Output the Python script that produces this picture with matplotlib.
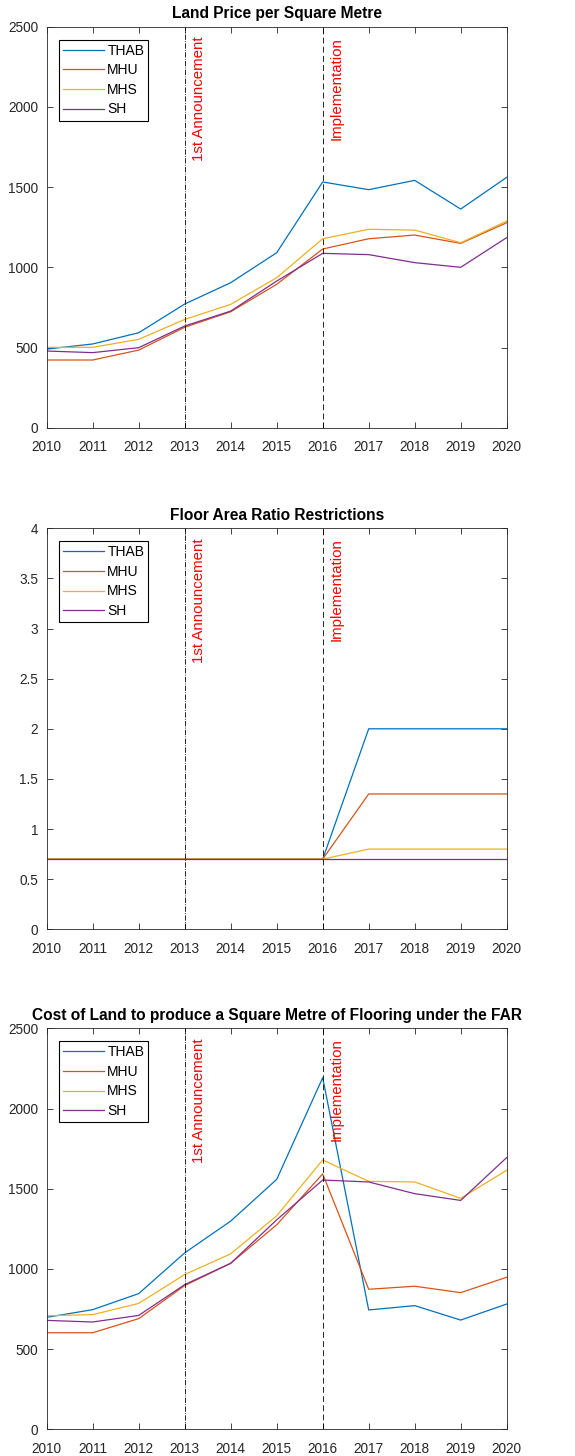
import matplotlib.pyplot as plt
from matplotlib.ticker import FuncFormatter

plt.rcParams['font.family'] = ['Liberation Sans', 'DejaVu Sans']

years = list(range(2010, 2021))
series = ['THAB', 'MHU', 'MHS', 'SH']
colors = ['#0072BD', '#D95319', '#EDB120', '#7E2F8E']

# land price per square metre
price_thab = [490, 522, 592, 771, 904, 1091, 1532, 1484, 1542, 1363, 1561]
price_mhu = [422, 422, 484, 626, 723, 894, 1114, 1178, 1201, 1149, 1278]
price_mhs = [501, 501, 551, 675, 769, 935, 1178, 1237, 1232, 1153, 1288]
price_sh = [478, 468, 499, 634, 727, 914, 1087, 1079, 1029, 1000, 1185]

# floor area ratio
far_thab = [0.7, 0.7, 0.7, 0.7, 0.7, 0.7, 0.7, 2.0, 2.0, 2.0, 2.0]
far_mhu = [0.7, 0.7, 0.7, 0.7, 0.7, 0.7, 0.7, 1.35, 1.35, 1.35, 1.35]
far_mhs = [0.7, 0.7, 0.7, 0.7, 0.7, 0.7, 0.7, 0.8, 0.8, 0.8, 0.8]
far_sh = [0.7, 0.7, 0.7, 0.7, 0.7, 0.7, 0.7, 0.7, 0.7, 0.7, 0.7]

# cost of land per square metre of flooring
cost_thab = [698, 746, 846, 1100, 1298, 1558, 2192, 744, 771, 681, 781]
cost_mhu = [602, 602, 690, 896, 1035, 1275, 1592, 873, 892, 852, 948]
cost_mhs = [708, 715, 785, 965, 1094, 1331, 1679, 1546, 1542, 1440, 1615]
cost_sh = [679, 669, 710, 902, 1035, 1306, 1554, 1542, 1469, 1427, 1694]

panels = [
    ('Land Price per Square Metre', [price_thab, price_mhu, price_mhs, price_sh], 2500, 500),
    ('Floor Area Ratio Restrictions', [far_thab, far_mhu, far_mhs, far_sh], 4, 0.5),
    ('Cost of Land to produce a Square Metre of Flooring under the FAR',
     [cost_thab, cost_mhu, cost_mhs, cost_sh], 2500, 500),
]

W, H = 575, 1456
fig = plt.figure(figsize=(W / 100, H / 100), dpi=100)
tops = [26.7, 528.3, 1028.3]
left, right, height = 46.7, 506.7, 401

axc = '#262626'
for (title, data, ymax, ystep), top in zip(panels, tops):
    ax = fig.add_axes([left / W, 1 - (top + height) / H, (right - left) / W, height / H])
    for vals, name, c in zip(data, series, colors):
        ax.plot(years, vals, color=c, linewidth=0.9, label=name)
    ax.axvline(2013, color='black', linestyle='-.', linewidth=0.6)
    ax.axvline(2016, color='black', linestyle=(0, (7, 4)), linewidth=0.6)
    ax.text(2013.15, ymax * 0.975, '1st Announcement', rotation=90, color='red',
            fontsize=10.8, ha='left', va='top')
    ax.text(2016.15, ymax * 0.975, 'Implementation', rotation=90, color='red',
            fontsize=10.8, ha='left', va='top')
    ax.set_xlim(2010, 2020)
    ax.set_ylim(0, ymax)
    ax.set_xticks(years)
    n = int(round(ymax / ystep))
    ax.set_yticks([i * ystep for i in range(n + 1)])
    ax.yaxis.set_major_formatter(FuncFormatter(lambda v, p: '%g' % v))
    ax.tick_params(direction='in', top=True, right=True, labelsize=9.8,
                   colors=axc, length=4, width=0.6)
    ax.tick_params(axis='x', pad=9)
    ax.tick_params(axis='y', pad=6)
    for s in ax.spines.values():
        s.set_color(axc)
        s.set_linewidth(0.6)
    ax.set_title(title, fontsize=11.2, fontweight='bold', pad=6)
    leg = ax.legend(loc='upper left', bbox_to_anchor=(0.026, 0.968), fontsize=10,
                    fancybox=False, edgecolor='black', framealpha=1,
                    handlelength=3.0, handletextpad=0.2, labelspacing=0.4,
                    borderpad=0.3, borderaxespad=0)
    leg.get_frame().set_linewidth(0.8)

plt.savefig('out.png', dpi=100)
